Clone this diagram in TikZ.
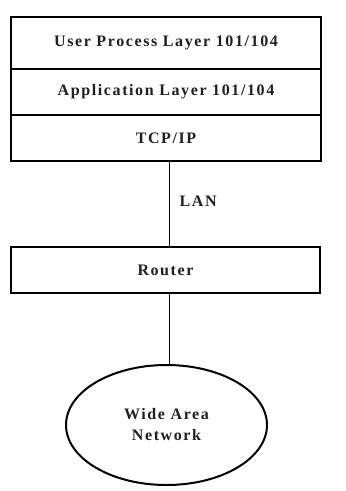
\documentclass[tikz,border=0pt]{standalone}
\usepackage{fontspec}
\setmainfont{Liberation Serif}[LetterSpace=10]
\usetikzlibrary{shapes.geometric}
\begin{document}
\begin{tikzpicture}[x=1pt,y=1pt,
  every node/.style={font=\fontsize{16}{21}\selectfont\bfseries, text=black!88},
  layerbox/.style={draw, line width=2pt, minimum width=310pt, inner sep=0pt},
  link/.style={line width=1.8pt},
  cloud/.style={draw, ellipse, line width=2pt, minimum width=201pt, minimum height=120pt, inner sep=0pt, align=center}]
  \useasboundingbox (0,0) rectangle (346,-491);
  % protocol stack
  \node[layerbox, minimum height=52pt] (user) at (166,-43) {User Process Layer 101/104};
  \node[layerbox, minimum height=46pt] (app)  at (166,-92) {Application Layer 101/104};
  \node[layerbox, minimum height=46pt] (tcp)  at (166,-138) {TCP/IP};
  % router and wide area network
  \node[layerbox, minimum width=309pt, minimum height=46pt] (router) at (165.5,-270) {Router};
  \node[cloud] (wan) at (166.5,-425) {Wide Area\\Network};
  % connectors
  \coordinate (trunk) at (169.5,0);
  \draw[link] (tcp.south -| trunk) -- node[right=6pt, pos=0.47] (lan) {LAN} (router.north -| trunk);
  \draw[link] (router.south -| trunk) -- (wan.north -| trunk);
\end{tikzpicture}
\end{document}
